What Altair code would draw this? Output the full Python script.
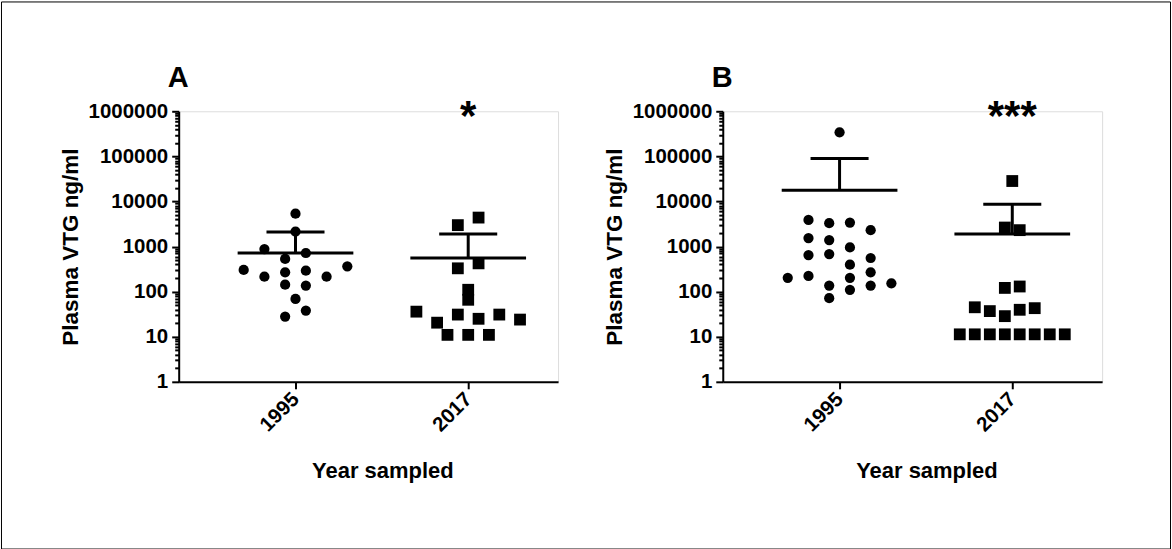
import altair as alt
import pandas as pd

years = ["1995", "2017"]
panel_letters = ["A", "B"]
y_major_ticks = [1, 10, 100, 1000, 10000, 100000, 1000000]
x_title = "Year sampled"
y_title = "Plasma VTG ng/ml"

# Panel A values (ng/ml) and horizontal scatter slot (% of category spacing)
a95_vals = [5370, 2150, 881, 719, 530, 303, 364, 215, 268, 292, 215, 143, 136, 69, 38, 28]
a95_slot = [0, 0, -18, 6, -6, -30, 30, -18, -6, 6, 18, -6, 6, 0, 6, -6]
a17_vals = [4390, 2985, 329, 424, 110, 66, 36, 20.5, 31, 25, 31, 24, 11, 11, 11]
a17_slot = [6, -6, -6, 6, 0, 0, -30, -18, -6, 6, 18, 30, -12, 0, 12]
a_means = [720, 557]
a_sem_upper = [2090, 1890]
a_stars = ["", "*"]

# Panel B
b95_vals = [342000, 3900, 3300, 3400, 2310, 1540, 1390, 955, 649, 683, 557, 396,
            268, 202, 202, 223, 136, 110, 136, 153, 71.5]
b95_slot = [0, -18, -6, 6, 18, -18, -6, 6, -18, -6, 18, 6, 18, 6, -30, -18, -6, 6, 18, 30, -6]
b17_vals = [28400, 2640, 2310, 121, 130, 45, 37, 28.6, 39.6, 43,
            11.3, 11.3, 11.3, 11.3, 11.3, 11.3, 11.3, 11.3]
b17_slot = [0, -4.3, 4.3, -4.3, 4.3, -21.7, -13, -4.3, 4.3, 13,
            -30.4, -21.7, -13, -4.3, 4.3, 13, 21.7, 30.4]
b_means = [17660, 1888]
b_sem_upper = [90000, 8670]
b_stars = ["", "***"]

FONT = "Liberation Sans"
minor_ticks = [m * d for d in y_major_ticks[:-1] for m in range(2, 10)]
major_str = "[" + ",".join(str(v) for v in y_major_ticks) + "]"
is_major = f"indexof({major_str}, datum.value) >= 0"

xs = alt.Scale(domain=[-0.6763, 1.5202], nice=False, zero=False)
ys = alt.Scale(type="log", domain=[1, 1000000], nice=False)

x_label_expr = " : ".join(
    [f"datum.value == {i} ? '{y}'" for i, y in enumerate(years)] + ["''"]
)

xaxis = alt.Axis(
    values=list(range(len(years))), labelExpr=x_label_expr, title=x_title,
    labelAngle=-45, labelAlign="right", labelBaseline="middle", labelPadding=7,
    labelFontSize=20.5, labelFontWeight="bold", labelColor="black", labelFont=FONT,
    tickSize=7, tickWidth=2, tickColor="black", domainWidth=2, domainColor="black",
    titleFontSize=22, titleFontWeight="bold", titleColor="black", titleFont=FONT,
    titleX=204, titleY=96, titleBaseline="alphabetic", grid=False,
)
yaxis = alt.Axis(
    values=y_major_ticks + minor_ticks,
    labelExpr=f"{is_major} ? format(datum.value, 'd') : ''",
    labelOverlap=False, labelBound=False, labelPadding=4,
    labelFontSize=20.5, labelFontWeight="bold", labelColor="black", labelFont=FONT,
    tickSize={"condition": {"test": is_major, "value": 7}, "value": 4},
    tickWidth=2, tickColor="black", domainWidth=2, domainColor="black",
    title=y_title, titleFontSize=22.5, titleFontWeight="bold", titleColor="black",
    titleFont=FONT, titleAngle=-90, titleX=-101, titleY=135.5,
    titleBaseline="alphabetic", grid=False,
)


def panel(letter, v95, s95, v17, s17, means, uppers, stars, border=False):
    pts = pd.DataFrame({
        "year": [years[0]] * len(v95) + [years[1]] * len(v17),
        "idx": [0] * len(v95) + [1] * len(v17),
        "val": v95 + v17,
        "slot": s95 + s17,
    })
    summ = pd.DataFrame({"idx": [0, 1], "mean": means, "upper": uppers,
                         "star": stars, "top": [1000000, 1000000]})

    points = alt.Chart(pts).transform_calculate(
        xpos="datum.idx + datum.slot / 100"
    ).mark_point(filled=True, opacity=1, color="black", strokeWidth=0).encode(
        x=alt.X("xpos:Q", scale=xs, axis=xaxis),
        y=alt.Y("val:Q", scale=ys, axis=yaxis),
        shape=alt.Shape("year:N", scale=alt.Scale(domain=years, range=["circle", "square"]), legend=None),
        size=alt.Size("year:N", scale=alt.Scale(domain=years, range=[105, 140]), legend=None),
    )
    mean_line = alt.Chart(summ).transform_calculate(
        x1="datum.idx - 0.335", x2="datum.idx + 0.335"
    ).mark_rule(strokeWidth=3, color="black").encode(
        x=alt.X("x1:Q", scale=xs, axis=xaxis), x2="x2:Q",
        y=alt.Y("mean:Q", scale=ys, axis=yaxis),
    )
    sem_line = alt.Chart(summ).transform_calculate(
        x1="datum.idx - 0.168", x2="datum.idx + 0.168"
    ).mark_rule(strokeWidth=3, color="black").encode(
        x=alt.X("x1:Q", scale=xs, axis=xaxis), x2="x2:Q",
        y=alt.Y("upper:Q", scale=ys, axis=yaxis),
    )
    stem = alt.Chart(summ).mark_rule(strokeWidth=3, color="black").encode(
        x=alt.X("idx:Q", scale=xs, axis=xaxis),
        y=alt.Y("mean:Q", scale=ys, axis=yaxis), y2="upper:Q",
    )
    star_text = alt.Chart(summ).mark_text(
        font=FONT, fontSize=42, fontWeight="bold", color="black",
        baseline="alphabetic", dy=19,
    ).encode(
        x=alt.X("idx:Q", scale=xs, axis=xaxis),
        y=alt.Y("top:Q", scale=ys, axis=yaxis),
        text="star:N",
    )
    letter_text = alt.Chart(pd.DataFrame({"t": [letter]})).mark_text(
        font=FONT, fontSize=29, fontWeight="bold", color="black",
        baseline="alphabetic", align="center",
    ).encode(x=alt.value(-0.5), y=alt.value(-24), text="t:N")

    layers = [points, mean_line, sem_line, stem, star_text, letter_text]
    if border:
        frame = alt.Chart(pd.DataFrame({"t": [0]})).mark_rect(
            filled=False, stroke="black", strokeWidth=1
        ).encode(x=alt.value(-177.5), x2=alt.value(993.5),
                 y=alt.value(-109.5), y2=alt.value(438.5))
        layers = [frame] + layers
    return alt.layer(*layers).properties(width=380, height=271)


pa = panel(panel_letters[0], a95_vals, a95_slot, a17_vals, a17_slot,
           a_means, a_sem_upper, a_stars, border=True)
pb = panel(panel_letters[1], b95_vals, b95_slot, b17_vals, b17_slot,
           b_means, b_sem_upper, b_stars)

chart = alt.hconcat(pa, pb, spacing=165, bounds="flush", padding=0).configure_view(
    stroke=None
).configure(background="white")

chart.save("out.html", embed_options={"renderer": "svg", "actions": False})
